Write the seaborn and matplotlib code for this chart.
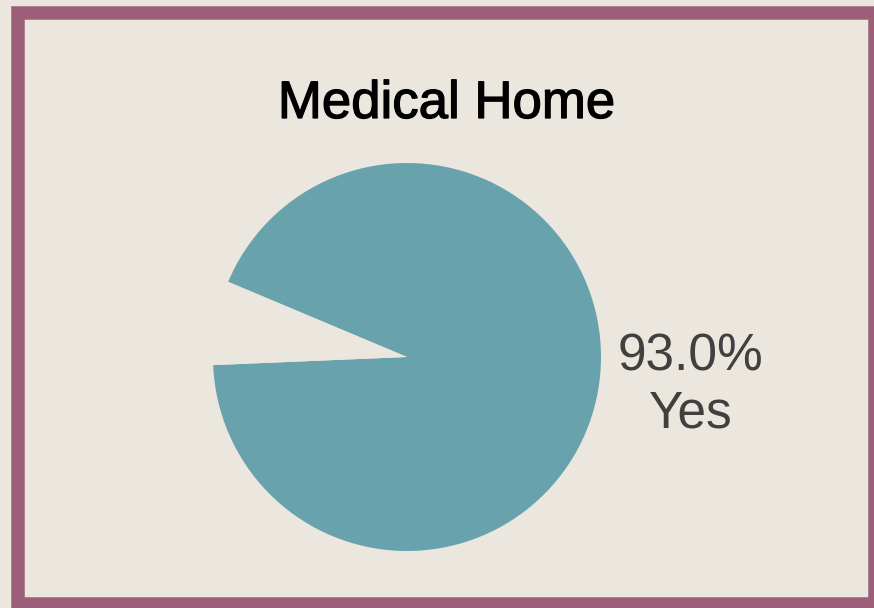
#!/usr/bin/env python3
"""
Single-slice pie chart: share of children with a medical home.
    Usage:
    plot.py
"""

import logging

import matplotlib
matplotlib.use("Agg")
import matplotlib.pyplot as plt
import matplotlib.patheffects as pe
from matplotlib.patches import Rectangle
import seaborn as sns

logger = logging.getLogger(__name__)
logging.getLogger("matplotlib").setLevel(logging.WARNING)

# data
categories = ["Yes", "No"]
shares = [93.0, 7.0]
shown_labels = ["93.0%\nYes", ""]
title = "Medical Home"

BG = "#ebe6de"
FRAME = "#9c5f78"
TEAL = "#68a3ad"
W, H, DPI = 874, 608, 100


def px(x, y):
    """pixel (from top-left) -> figure fraction"""
    return x / W, 1 - y / H


def main():
    sns.set_theme(style="white")
    plt.rcParams["font.family"] = ["Liberation Sans", "DejaVu Sans"]

    fig = plt.figure(figsize=(W / DPI, H / DPI), dpi=DPI, facecolor=BG)

    # pie axes: centre at (407, 357) px, radius 194 px, limits +-1.25
    side = 2.5 * 194
    ax = fig.add_axes([(407 - side / 2) / W, (H - 357 - side / 2) / H, side / W, side / H])
    ax.set_facecolor(BG)
    colors = sns.color_palette([TEAL, BG])
    wedges, texts = ax.pie(
        shares,
        labels=shown_labels,
        colors=colors,
        startangle=182.4,
        counterclock=True,
        labeldistance=1.105,
        textprops={"fontsize": 37, "color": "#404040", "multialignment": "center"},
        wedgeprops={"linewidth": 0},
    )
    ax.set_xlim(-1.25, 1.25)
    ax.set_ylim(-1.25, 1.25)
    ax.set_aspect("equal")
    ax.axis("off")

    # nudge label up a bit, like the original
    for t in texts:
        x, y = t.get_position()
        t.set_position((x, y + 0.05))

    tx, ty = px(446.5, 118)
    fig.text(tx, ty, title, ha="center", va="baseline", fontsize=38, color="black",
             path_effects=[pe.withStroke(linewidth=0.9, foreground="black")])

    # frame
    lw_px = 13.5
    x0, y1 = px(18, 603.75)
    x1, y0 = px(874.75, 12.5)
    fig.patches.append(Rectangle((x0, y1), x1 - x0, y0 - y1, transform=fig.transFigure,
                                 fill=False, edgecolor=FRAME, linewidth=lw_px * 72 / DPI,
                                 joinstyle="miter", clip_on=False))

    fig.savefig("out.png", dpi=DPI, facecolor=BG)
    logger.info("saved out.png")


if __name__ == "__main__":
    main()
